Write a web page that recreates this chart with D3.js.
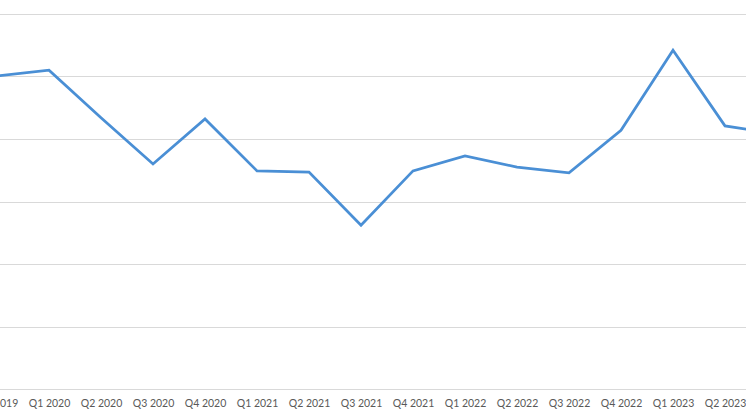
<!DOCTYPE html>
<html>
<head>
<meta charset="utf-8">
<script src="https://cdn.jsdelivr.net/npm/d3@7"></script>
<style>
  html, body { margin: 0; padding: 0; background: #fff; overflow: hidden; }
  svg { display: block; }
</style>
</head>
<body>
<svg id="chart" width="746" height="419"></svg>
<script>
const categories = ["Q4 2019","Q1 2020","Q2 2020","Q3 2020","Q4 2020","Q1 2021","Q2 2021","Q3 2021",
  "Q4 2021","Q1 2022","Q2 2022","Q3 2022","Q4 2022","Q1 2023","Q2 2023","Q3 2023"];
const values = [5.01, 5.10, 4.34, 3.60, 4.32, 3.49, 3.47, 2.62, 3.49, 3.73, 3.55, 3.46, 4.14, 5.42, 4.21, 4.08];
const yTicks = [0, 1, 2, 3, 4, 5, 6];

const W = 746, H = 419;
const svg = d3.select("#chart");

const x = d3.scalePoint().domain(categories).range([-3, 777]);
const y = d3.scaleLinear().domain([0, 6]).range([389, 14]);

// gridlines
svg.append("g")
  .selectAll("line")
  .data(yTicks)
  .join("line")
  .attr("x1", 0).attr("x2", W)
  .attr("y1", d => Math.round(y(d)) + 0.5)
  .attr("y2", d => Math.round(y(d)) + 0.5)
  .attr("stroke", "#d9d9d9")
  .attr("stroke-width", 1);

// x axis labels
const xAxis = d3.axisBottom(x).tickSize(0).tickPadding(0);
const gx = svg.append("g").attr("transform", "translate(0,399.5)").call(xAxis);
gx.select(".domain").remove();
gx.selectAll("text")
  .attr("font-family", "Lato, 'Liberation Sans', sans-serif")
  .attr("font-size", "10.5px")
  .attr("fill", "#595959")
  .attr("dy", "0.71em");

// line
const line = d3.line()
  .x((d, i) => x(categories[i]))
  .y(d => y(d));

svg.append("path")
  .datum(values)
  .attr("d", line)
  .attr("fill", "none")
  .attr("stroke", "#4a8fd5")
  .attr("stroke-width", 2.75)
  .attr("stroke-linejoin", "miter");
</script>
</body>
</html>
